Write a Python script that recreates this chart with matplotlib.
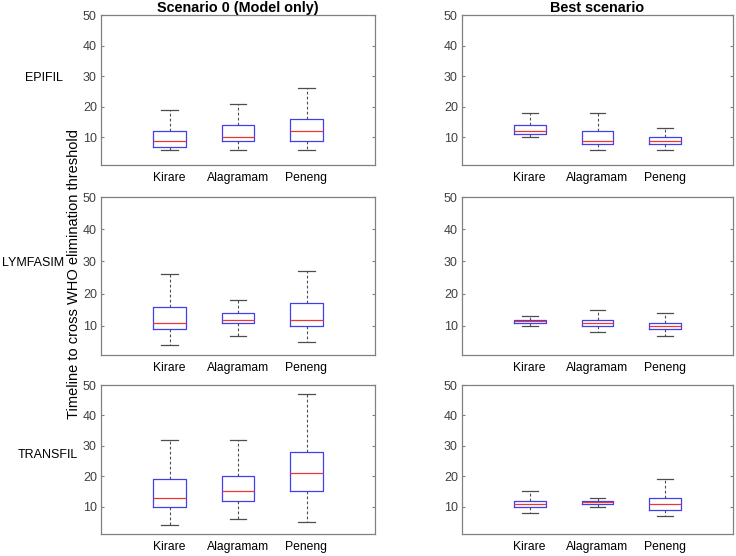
import matplotlib
matplotlib.use('Agg')
import matplotlib.pyplot as plt

sites = ['Kirare', 'Alagramam', 'Peneng']
models = ['EPIFIL', 'LYMFASIM', 'TRANSFIL']
col_titles = ['Scenario 0 (Model only)', 'Best scenario']

# per site: lower whisker, Q1, median, Q3, upper whisker
epifil_s0 = [[6, 7, 9, 12, 19], [6, 9, 10, 14, 21], [6, 9, 12, 16, 26]]
epifil_best = [[10, 11, 12, 14, 18], [6, 8, 9, 12, 18], [6, 8, 9, 10, 13]]
lymfasim_s0 = [[4, 9, 11, 16, 26], [7, 11, 12, 14, 18], [5, 10, 12, 17, 27]]
lymfasim_best = [[10, 11, 11.5, 12, 13], [8, 10, 11, 12, 15], [7, 9, 10, 11, 14]]
transfil_s0 = [[4, 10, 13, 19, 32], [6, 12, 15, 20, 32], [5, 15, 21, 28, 47]]
transfil_best = [[8, 10, 11, 12, 15], [10, 11, 11.5, 12, 13], [7, 9, 11, 13, 19]]

panels = [[epifil_s0, epifil_best],
          [lymfasim_s0, lymfasim_best],
          [transfil_s0, transfil_best]]

plt.rcParams['font.family'] = ['Liberation Sans', 'DejaVu Sans']

# axes boxes in pixels (left, top, right, bottom)
col_x = [(101, 375), (462, 733)]
row_y = [(15, 165), (197, 355), (385, 534)]
W, H = 736, 556


def draw_panel(ax, data):
    stats = []
    for d, s in zip(data, sites):
        stats.append(dict(whislo=d[0], q1=d[1], med=d[2], q3=d[3], whishi=d[4], label=s))
    ax.bxp(stats, positions=[1, 2, 3], widths=0.47, showfliers=False,
           boxprops=dict(color='#4040ee', lw=0.9),
           medianprops=dict(color='#ee3535', lw=0.9),
           whiskerprops=dict(color='0.3', ls=(0, (2.5, 2)), lw=0.8),
           capprops=dict(color='0.3', lw=0.9))
    ax.set_xlim(0, 4)
    ax.set_ylim(1, 50)
    ax.set_yticks([10, 20, 30, 40, 50])
    ax.tick_params(axis='y', direction='in', length=2.5, right=True,
                   labelsize=9, labelcolor='0.25', color='0.5', pad=3)
    ax.tick_params(axis='x', length=0, labelsize=8.7, pad=5)
    for sp in ax.spines.values():
        sp.set_color('0.5')
        sp.set_linewidth(0.9)


def main():
    fig = plt.figure(figsize=(7.36, 5.56), dpi=100)
    for r in range(3):
        for c in range(2):
            x0, x1 = col_x[c]
            y0, y1 = row_y[r]
            ax = fig.add_axes([x0 / W, 1 - y1 / H, (x1 - x0) / W, (y1 - y0) / H])
            draw_panel(ax, panels[r][c])
            if r == 0:
                ax.set_title(col_titles[c], fontweight='bold', fontsize=10.4, pad=2)

    label_pos = [(25, 78), (2, 263), (18, 455)]
    for name, (x, y) in zip(models, label_pos):
        fig.text(x / W, 1 - y / H, name, fontsize=9, va='center', ha='left')

    fig.text(74 / W, 1 - 274 / H, 'Timeline to cross WHO elimination threshold',
             rotation=90, fontsize=10.5, va='center', ha='center')

    fig.savefig('out.png', dpi=100)


if __name__ == '__main__':
    main()
